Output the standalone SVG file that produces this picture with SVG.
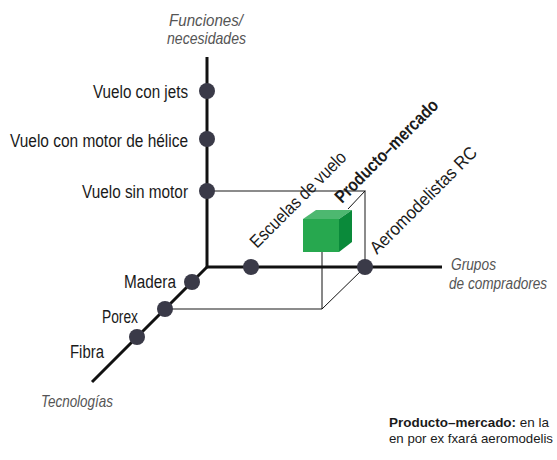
<svg xmlns="http://www.w3.org/2000/svg" width="557" height="460" viewBox="0 0 557 460">
<style>
.lbl{font-family:"Liberation Sans Narrow","Liberation Sans",Arial,sans-serif;font-size:18px;fill:#1a1a1a}
.ax{font-family:"Liberation Sans Narrow","Liberation Sans",Arial,sans-serif;font-size:17px;font-style:italic;fill:#555}
.b{font-weight:bold}
.axis{stroke:#111;stroke-width:3;fill:none}
.box{stroke:#666;stroke-width:1.5;fill:none}
.thin{stroke:#111;stroke-width:1;fill:none}
.dot{fill:#3a3a48}
</style>
<rect width="557" height="460" fill="#fff"/>
<g id="connectors">
<line class="axis" x1="207" y1="57" x2="207" y2="267"/>
<line class="axis" x1="206" y1="267" x2="442" y2="267"/>
<line class="axis" x1="207" y1="267" x2="92" y2="382"/>
<polyline class="box" points="207,191 365,191 365,267"/>
<line class="box" x1="165" y1="309" x2="322" y2="309"/>
<line class="thin" x1="322" y1="309" x2="365" y2="267"/>
<line class="thin" x1="322" y1="252" x2="322" y2="309"/>
<line class="thin" x1="365" y1="191" x2="348" y2="209"/>
</g>
<g id="axis-labels">
<text class="ax" x="169" y="26" textLength="74" lengthAdjust="spacingAndGlyphs">Funciones/</text>
<text class="ax" x="167" y="44" textLength="79" lengthAdjust="spacingAndGlyphs">necesidades</text>
<text class="ax" x="451" y="270" textLength="45" lengthAdjust="spacingAndGlyphs">Grupos</text>
<text class="ax" transform="translate(449,289) scale(0.8,1)">de compradores</text>
<text class="ax" x="41" y="407" textLength="72" lengthAdjust="spacingAndGlyphs">Tecnologías</text>
</g>
<g id="n-jets"><circle class="dot" cx="207" cy="91" r="8"/><text class="lbl" x="93" y="98" textLength="95" lengthAdjust="spacingAndGlyphs">Vuelo con jets</text></g>
<g id="n-helice"><circle class="dot" cx="207" cy="139" r="8"/><text class="lbl" x="10" y="147" textLength="178" lengthAdjust="spacingAndGlyphs">Vuelo con motor de hélice</text></g>
<g id="n-sinmotor"><circle class="dot" cx="207" cy="191" r="8"/><text class="lbl" x="82" y="198" textLength="106" lengthAdjust="spacingAndGlyphs">Vuelo sin motor</text></g>
<g id="n-escuelas"><circle class="dot" cx="251" cy="267" r="8"/><text class="lbl" transform="translate(257,249) rotate(-45)" textLength="128" lengthAdjust="spacingAndGlyphs">Escuelas de vuelo</text></g>
<g id="n-aeromodelistas"><circle class="dot" cx="365" cy="267" r="8"/><text class="lbl" transform="translate(377,255) rotate(-45)" textLength="143" lengthAdjust="spacingAndGlyphs">Aeromodelistas RC</text></g>
<g id="n-madera"><circle class="dot" cx="192" cy="282" r="8"/><text class="lbl" x="124" y="288" textLength="52" lengthAdjust="spacingAndGlyphs">Madera</text></g>
<g id="n-porex"><circle class="dot" cx="165" cy="309" r="8"/><text class="lbl" x="102" y="323" textLength="36" lengthAdjust="spacingAndGlyphs">Porex</text></g>
<g id="n-fibra"><circle class="dot" cx="137" cy="337" r="8"/><text class="lbl" x="70" y="358" textLength="34" lengthAdjust="spacingAndGlyphs">Fibra</text></g>
<g id="n-producto">
<polygon points="303,219 316,210 352,210 339,219" fill="#4db870"/>
<polygon points="339,219 352,210 352,242 339,252" fill="#0a8a3a"/>
<rect x="303" y="219" width="36" height="33" fill="#27a84f"/>
<text class="lbl b" transform="translate(342,204) rotate(-45)" textLength="138" lengthAdjust="spacingAndGlyphs">Producto–mercado</text>
</g>
<g id="caption">
<text class="lbl" style="font-size:13px" x="389" y="427" textLength="160" lengthAdjust="spacingAndGlyphs"><tspan class="b">Producto–mercado:</tspan> en la</text>
<text class="lbl" style="font-size:13px" x="389" y="443" textLength="164" lengthAdjust="spacingAndGlyphs">en por ex fxará aeromodelis</text>
</g>
</svg>
